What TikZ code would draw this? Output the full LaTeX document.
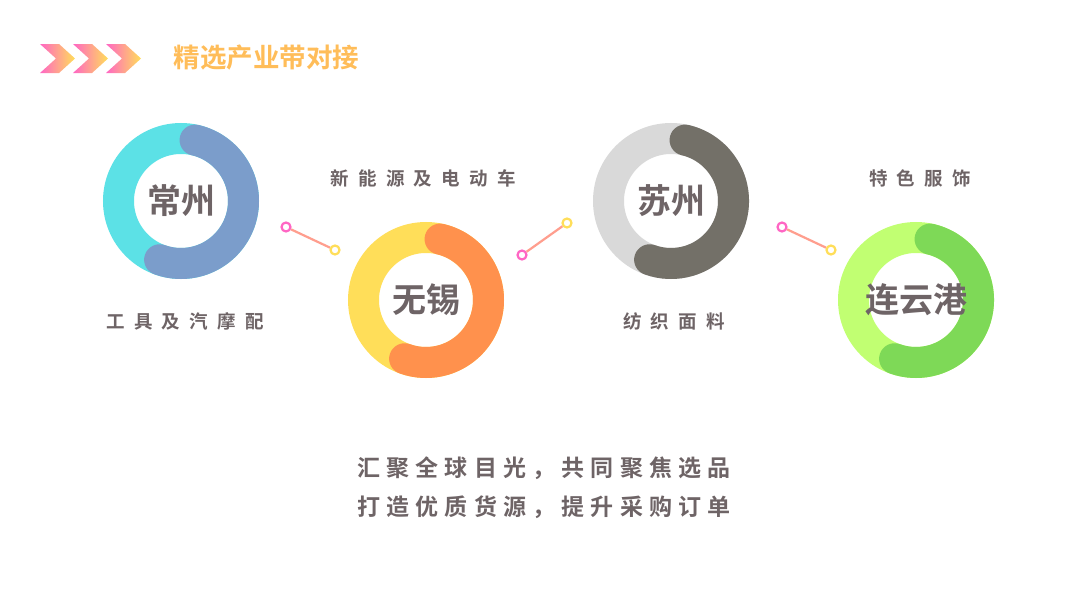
\documentclass[tikz,border=0pt]{standalone}
\usepackage{fontspec}
\setmainfont{Noto Sans CJK SC}
\newfontfamily\lblf[LetterSpace=50]{Noto Sans CJK SC Bold}
\newfontfamily\botf[LetterSpace=27]{Noto Sans CJK SC Bold}
\newfontfamily\cbold{Noto Sans CJK SC Bold}
\definecolor{txt}{HTML}{6E6466}
\definecolor{ttl}{HTML}{FFBD59}
\definecolor{pk}{HTML}{FF66C4}
\definecolor{yl}{HTML}{FFDE59}
\definecolor{ln}{HTML}{FF9E8E}
\begin{document}
\begin{tikzpicture}[x=1pt,y=-1pt,
  lbltext/.style={text=txt,font=\lblf\fontsize{18.5}{21}\selectfont},
  city/.style={text=txt,font=\cbold\fontsize{34}{38}\selectfont},
  dot/.style={circle,draw,line width=2.2pt,fill=white,minimum size=9pt,inner sep=0pt},
  link/.style={ln,line width=2.2pt}]
\useasboundingbox (0,0) rectangle (1080,608);
\fill[white] (0,0) rectangle (1080,608);
% chevrons
\foreach \x in {40,73,106}{
  \shade[left color=pk,right color=yl] (\x,44) -- (\x+19,44) -- (\x+35,58.5) -- (\x+19,73) -- (\x,73) -- (\x+16,58.5) -- cycle;}
\node[text=ttl,font=\cbold\fontsize{26.5}{30}\selectfont,anchor=west] (title) at (170,58) {精选产业带对接};
% rings
\newcommand\myring[5]{%
  \draw[#3,line width=31pt] (#1,#2) circle[radius=62.5];
  \draw[#4,line width=31pt,line cap=round] (#1,#2) ++(-77:62.5) arc[start angle=-77,end angle=110,radius=62.5];
  \node[city] (#5) at (#1,#2) {};}
\definecolor{c1}{HTML}{5CE1E6}\definecolor{c2}{HTML}{7B9DCB}
\definecolor{w1}{HTML}{FFDE59}\definecolor{w2}{HTML}{FF914D}
\definecolor{s1}{HTML}{D9D9D9}\definecolor{s2}{HTML}{737068}
\definecolor{l1}{HTML}{C1FF72}\definecolor{l2}{HTML}{7ED957}
\myring{181}{201}{c1}{c2}{cz}
\myring{426}{300}{w1}{w2}{wx}
\myring{671}{201}{s1}{s2}{sz}
\myring{916}{300}{l1}{l2}{lyg}
\node[city] at (cz) {常州};
\node[city] at (wx) {无锡};
\node[city] at (sz) {苏州};
\node[city] at (lyg) {连云港};
% labels
\node[lbltext] (a) at (185,321) {工具及汽摩配};
\node[lbltext] (b) at (423,178) {新能源及电动车};
\node[lbltext] (c) at (674,321) {纺织面料};
\node[lbltext] (d) at (920,178) {特色服饰};
% connectors
\node[dot,draw=pk] (p1) at (286,227) {};
\node[dot,draw=yl] (q1) at (335,250) {};
\node[dot,draw=pk] (p2) at (522,255) {};
\node[dot,draw=yl] (q2) at (567,223) {};
\node[dot,draw=pk] (p3) at (782,227) {};
\node[dot,draw=yl] (q3) at (831,250) {};
\draw[link] (p1) -- (q1);
\draw[link] (p2) -- (q2);
\draw[link] (p3) -- (q3);
% bottom
\node[text=txt,font=\botf\fontsize{23}{26}\selectfont] (m1) at (544,468) {汇聚全球目光，共同聚焦选品};
\node[text=txt,font=\botf\fontsize{23}{26}\selectfont] (m2) at (544,507) {打造优质货源，提升采购订单};
\end{tikzpicture}
\end{document}
